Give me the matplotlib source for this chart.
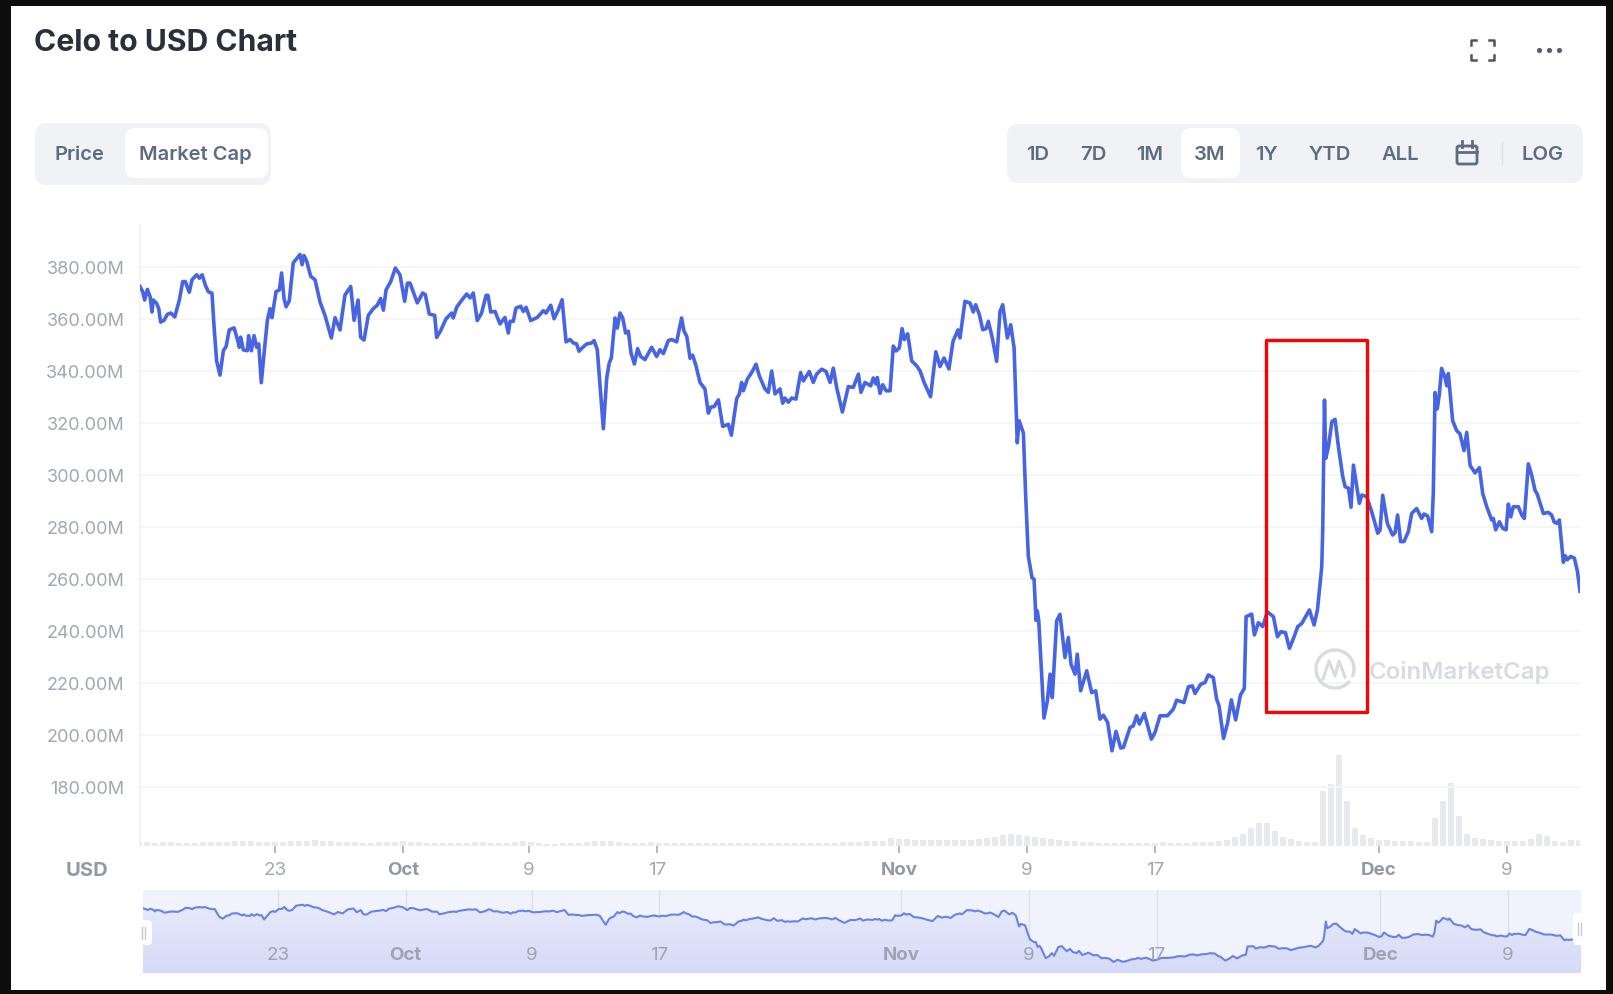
import matplotlib
matplotlib.use("Agg")
import matplotlib.pyplot as plt
import numpy as np
from matplotlib.patches import FancyBboxPatch, Rectangle, Arc

plt.rcParams['font.family'] = ['Inter', 'DejaVu Sans']

W, H = 1613, 994

# ---------- data ----------
# days since 1 September, market cap in USD millions
days_a = [13.56,13.73,13.85,14.02,14.19,14.31,14.39,14.60,14.73,14.85,15.06,15.27,15.48,15.73,16.02,16.23,16.39,16.64,16.81,17.10,17.27,17.44,17.64,17.83,18.06,18.19,18.35,18.56,18.77,18.94,19.14,19.44,19.64,19.77,19.85,20.02,20.27,20.35,20.52,20.69,20.85,20.98,21.14,21.31,21.52,21.69,21.81,22.06,22.27,22.41,22.56,22.69,22.89,23.14,23.39,23.56,23.69,23.81,23.98,24.23,24.50,24.81,25.12,25.52,25.75,26.06,26.37,26.73,26.94,27.19,27.35,27.56,27.83,28.14,28.39,28.60,28.77,28.94,29.23,29.52,29.81]
caps_a = [372.5,370.5,367.3,371.4,368.6,362.7,367.3,366.0,364.0,358.8,359.5,361.8,362.3,360.8,367.3,374.4,374.4,370.3,375.1,377.0,375.7,377.0,373.1,370.5,369.9,356.9,343.9,338.4,347.8,349.4,355.8,356.6,352.3,349.1,353.0,348.1,347.8,353.6,347.8,353.6,349.1,350.4,335.5,346.5,359.5,364.0,360.5,370.5,371.2,377.7,367.9,364.7,367.0,381.6,383.5,384.8,380.9,384.4,382.2,376.4,375.1,366.6,361.4,352.7,360.5,355.8,369.2,372.5,359.5,367.3,353.0,351.9,361.4,364.0,365.3,367.9,363.4,371.2,374.4,379.6,377.0]

days_b = [30.10,30.27,30.44,30.89,31.23,31.39,31.64,31.98,32.10,32.35,32.69,33.04,33.14,33.35,33.69,33.98,34.19,34.39,34.64,34.91,35.19,35.31,35.48,35.75,36.06,36.37,36.58,36.69,36.89,37.06,37.35,37.52,37.69,37.98,38.39,38.77,38.94,39.23,39.44,39.71,39.94,40.19,40.44,40.64,40.85,41.00,41.23,41.48,41.79,41.94,42.14,42.52,42.73,42.89,43.02,43.25,43.39,43.56,43.73,43.91,44.08,44.25,44.46,44.66,44.85,45.12,45.54,45.85,46.06]
caps_b = [366.8,373.8,373.8,366.2,370.0,369.4,361.9,361.4,352.9,355.5,360.1,362.3,360.4,364.5,367.4,369.6,368.1,370.0,359.4,362.3,369.1,369.1,362.7,362.9,358.1,360.6,354.6,359.1,359.1,364.2,364.9,362.9,364.5,359.4,360.6,363.2,362.3,365.3,360.1,363.6,367.4,351.2,352.1,350.8,350.4,347.6,349.1,350.4,350.8,351.7,348.2,317.8,337.3,343.1,345.0,360.4,356.5,362.3,360.4,354.6,355.3,346.9,342.7,348.6,345.6,344.4,349.1,345.6,348.2]

days_c = [46.27,46.58,46.79,47.10,47.41,47.56,47.73,47.94,48.10,48.31,48.56,48.87,49.08,49.23,49.44,49.71,49.98,50.33,50.52,50.85,51.02,51.16,51.27,51.52,51.79,52.06,52.27,52.62,52.83,53.04,53.25,53.56,53.73,53.87,54.08,54.29,54.56,54.85,55.02,55.39,55.64,55.85,56.17,56.44,56.69,56.89,57.10,57.46,57.83,58.14,58.46,58.62,58.87,59.23,59.39,59.56,59.64,59.81,59.98,60.19,60.44,60.64,60.81,61.02,61.19,61.33,61.54,61.79,62.10,62.31]
caps_c = [346.7,351.7,352.1,351.2,360.4,355.3,353.4,344.9,346.1,342.0,335.6,333.1,323.8,326.1,326.3,328.9,318.7,319.5,315.3,329.3,331.2,335.6,332.4,336.9,339.4,342.6,338.1,333.1,331.8,340.0,331.2,333.1,327.6,329.6,328.0,329.6,329.2,339.4,336.2,339.8,335.6,338.8,340.7,339.8,335.6,341.1,333.7,324.2,334.0,333.7,338.8,331.8,335.6,334.3,337.3,335.0,337.5,331.4,334.7,332.4,332.4,349.6,347.7,348.9,356.3,352.1,354.3,343.9,342.0,340.1]

days_d = [62.58,62.97,63.30,63.56,63.81,64.12,64.37,64.68,64.81,65.12,65.44,65.64,65.79,66.02,66.23,66.44,66.58,66.83,67.10,67.31,67.48,67.77,67.98,68.19,68.39,68.50,68.77,68.92,69.08,69.31,69.44,69.56,69.64,69.73,70.06,70.27,70.44,70.58,70.85,71.06,71.37,71.58,71.75,72.00,72.14,72.35,72.73,73.04,73.29,73.56,73.77,74.04,74.31,74.56,74.85,75.02,75.44,75.64,75.85,76.02,76.33,76.77,77.00,77.31,77.77,78.14,78.35,78.81,79.08,79.33,79.50,79.85,80.12,80.33,80.64,80.85]
caps_d = [335.4,330.1,347.4,341.7,345.0,340.8,351.3,355.8,352.7,366.8,366.1,362.7,365.5,361.7,355.9,356.3,359.1,352.7,343.7,362.9,365.5,352.7,357.8,348.9,312.4,320.9,316.2,291.2,268.8,260.5,259.9,244.1,247.7,244.1,206.5,213.1,223.4,214.4,243.9,246.4,229.8,237.5,227.2,223.4,231.1,217.0,224.7,216.3,217.0,206.1,207.6,204.8,193.9,201.4,195.0,195.2,202.9,203.5,207.4,204.2,208.3,198.4,201.0,207.4,207.4,209.9,213.4,212.5,218.5,218.9,216.0,219.5,220.2,223.1,222.1,213.8]

days_e = [81.00,81.28,81.53,81.77,82.04,82.34,82.58,82.69,83.04,83.21,83.46,83.73,84.02,84.40,84.65,84.86,85.15,85.40,85.69,85.92,86.17,86.65,86.94,87.15,87.42,87.48,87.59,87.67,87.84,88.05,88.25,88.46,88.73,88.88,89.09,89.25,89.40,89.77,89.92,90.23,90.54,90.92,91.06,91.23,91.52,91.85,92.00,92.16,92.35,92.56,92.83,93.04,93.35,93.66,93.81,94.04,94.29,94.39,94.50,94.64,94.77,94.91,95.12,95.23,95.33,95.60,95.85,96.06,96.31,96.48,96.69,97.00,97.27,97.48,97.73,98.04,98.14,98.29,98.52,98.73,98.94,99.08,99.23,99.39,99.71,99.92,100.08,100.33,100.54,100.75,100.89,101.27,101.58,101.79,101.94,102.10,102.27,102.52,102.64,102.77,102.98,103.21,103.40,103.56]
caps_e = [211.2,198.7,204.5,213.5,205.8,215.4,217.9,245.5,246.5,238.5,243.2,241.7,247.4,245.5,237.8,239.7,239.4,233.3,237.8,241.7,242.9,248.1,242.3,248.1,264.7,278.8,328.8,306.4,310.9,320.5,321.4,310.9,299.4,295.5,294.9,287.6,303.8,289.1,292.3,291.7,285.9,277.6,278.8,292.2,281.4,276.9,277.8,284.6,274.4,274.4,278.2,285.2,287.1,283.3,285.0,284.2,278.2,292.9,331.7,325.4,331.1,341.0,337.5,334.3,339.0,320.9,317.1,315.8,309.4,316.4,303.7,300.8,302.8,292.9,287.8,282.7,283.3,278.9,282.0,279.5,278.9,288.8,283.9,287.8,287.8,284.6,283.3,304.3,299.9,294.1,292.6,285.2,285.6,284.6,282.0,281.4,282.7,266.4,268.9,267.4,268.7,268.0,262.9,255.3]

days = days_a + days_b + days_c + days_d + days_e
market_cap = caps_a + caps_b + caps_c + caps_d + caps_e

# volume, one bar each half day from day 13.5 (relative units)
volume = [4,4,3,4,4,3,3,3,4,4,4,4,5,5,5,4,4,4,
          4,5,5,5,6,5,5,4,4,4,3,3,4,4,4,5,
          4,4,3,3,3,3,3,3,4,4,3,3,3,4,5,4,3,2,2,3,3,3,4,5,5,5,4,3,3,3,4,3,
          3,3,3,3,3,3,3,3,3,3,3,3,3,3,3,3,3,3,3,3,3,3,4,4,4,5,5,5,8,
          7,7,6,6,6,6,6,6,6,6,7,8,9,11,12,11,10,9,8,
          7,6,5,5,4,4,3,3,3,3,3,3,3,3,4,3,3,3,4,4,
          4,5,6,9,12,18,23,23,15,9,7,5,4,4,
          55,62,91,45,18,11,8,6,6,5,5,5,4,4,
          28,45,63,30,12,8,7,6,5,5,5,5,7,12,10,5,4,6,6]
volume_days = [13.5 + 0.5 * i for i in range(len(volume))]

y_ticks = [180, 200, 220, 240, 260, 280, 300, 320, 340, 360, 380]
y_labels = ['180.00M', '200.00M', '220.00M', '240.00M', '260.00M', '280.00M',
            '300.00M', '320.00M', '340.00M', '360.00M', '380.00M']
x_tick_days = [22, 30, 37.88, 45.88, 61, 69, 77, 91, 99]
x_tick_labels = ['23', 'Oct', '9', '17', 'Nov', '9', '17', 'Dec', '9']
month_labels = ['Oct', 'Nov', 'Dec']
range_buttons = ['1D', '7D', '1M', '3M', '1Y', 'YTD', 'ALL']
type_buttons = ['Price', 'Market Cap']

# ---------- colours ----------
LINE = '#4764e2'
GRID = '#f5f6f8'
TXT = '#a2a7b4'
BTN = '#5f6b80'
PANEL = '#f0f2f6'

fig = plt.figure(figsize=(W / 100, H / 100), dpi=100, facecolor='#0d0d0d')


def axes_px(x0, y0, x1, y1, **kw):
    return fig.add_axes([x0 / W, 1 - y1 / H, (x1 - x0) / W, (y1 - y0) / H], **kw)


# page layer in pixel coordinates (chrome only)
page = axes_px(0, 0, W, H, zorder=0)
page.set_xlim(0, W)
page.set_ylim(H, 0)
page.axis('off')
page.add_patch(Rectangle((11, 6), 1595, 984, fc='white', ec='none'))


def pill(x0, y0, x1, y1, r, color):
    page.add_patch(FancyBboxPatch((x0 + r, y0 + r), x1 - x0 - 2 * r, y1 - y0 - 2 * r,
                                  boxstyle=f'round,pad={r},rounding_size={r}',
                                  fc=color, ec='none'))


page.text(34, 43, 'Celo to USD Chart', fontsize=21.7, fontweight='bold', color='#2b2f3a',
          va='center', ha='left')

pill(35, 123, 271, 185, 12, PANEL)
pill(125, 128, 268, 178, 10, 'white')
page.text(79, 155, type_buttons[0], fontsize=14.5, fontweight='semibold', color=BTN, ha='center', va='center')
page.text(195, 155, type_buttons[1], fontsize=14.5, fontweight='semibold', color=BTN, ha='center', va='center')

pill(1007, 124, 1583, 183, 12, PANEL)
pill(1181, 128, 1240, 178, 10, 'white')
for name, cx in zip(range_buttons, [1038, 1093, 1150, 1210, 1267, 1330, 1400]):
    page.text(cx, 155, name, fontsize=14.5, fontweight='semibold', color=BTN, ha='center', va='center')
page.text(1543, 155, 'LOG', fontsize=14.5, fontweight='semibold', color=BTN, ha='center', va='center')
page.plot([1502, 1502], [142, 164], color='#dfe2e8', lw=1)

# calendar icon
page.add_patch(FancyBboxPatch((1457, 146), 20, 18, boxstyle='round,pad=0,rounding_size=2',
                              fc='none', ec=BTN, lw=2))
page.plot([1457, 1477], [152, 152], color=BTN, lw=2)
page.plot([1462, 1462], [141, 147], color=BTN, lw=2)
page.plot([1472, 1472], [141, 147], color=BTN, lw=2)

# full-screen corners and menu dots
for sx, sy in [(1471, 40), (1494, 40), (1471, 60), (1494, 60)]:
    dx = 5 if sx < 1480 else -5
    dy = 5 if sy < 50 else -5
    page.plot([sx + dx, sx, sx], [sy, sy, sy + dy], color='#50545f', lw=1.8)
page.scatter([1539, 1549, 1559], [50, 50, 50], s=14, color='#5a5f6b', lw=0)

# main chart
ax = axes_px(140, 224, 1580, 846, zorder=2)
ax.patch.set_alpha(0)
val = lambda px: 380 - (px - 267) / 2.6
ax.set_ylim(val(846), val(224))
ax.set_xlim(13.56, 103.56)
ax.set_yticks(y_ticks)
ax.set_yticklabels(y_labels)
ax.set_xticks(x_tick_days)
ax.set_xticklabels(x_tick_labels)
ax.grid(axis='y', color=GRID, lw=1.6, zorder=0)
ax.set_axisbelow(True)
for s in ['top', 'right', 'bottom']:
    ax.spines[s].set_visible(False)
ax.spines['left'].set_color('#f1f2f6')
ax.spines['left'].set_linewidth(1.2)
ax.tick_params(axis='y', length=0, pad=11, labelsize=13, labelcolor=TXT)
ax.tick_params(axis='x', length=5, width=1.2, color='#a7abb6', pad=6.5, labelsize=13.5, labelcolor=TXT)
for lab in ax.get_xticklabels():
    if lab.get_text() in month_labels:
        lab.set_fontweight('bold')
        lab.set_color('#9298a6')
ax.plot(days, market_cap, color=LINE, lw=2.6, solid_joinstyle='round', zorder=3)

# volume bars share the main chart's baseline
vol = ax.twinx()
vol.patch.set_alpha(0)
vol.set_ylim(0, 622)
vol.axis('off')
vol.bar(volume_days, volume, width=0.4, color='#e9eaed', zorder=1)
ax.set_zorder(3)
vol.set_zorder(2)

# navigator
nav = axes_px(143, 890, 1581, 973, zorder=2)
nav.set_facecolor('#f0f2fc')
nav.set_yticks([])
nav.set_xticks(x_tick_days)
nav.set_xticklabels([])
nav.tick_params(axis='x', length=0)
nav.grid(axis='x', color='#dcdff0', lw=1)
nav.set_axisbelow(True)
for s in nav.spines.values():
    s.set_visible(False)
area = nav.fill_between(days, market_cap, 157, color='none', lw=0)
shade = nav.imshow(np.linspace(0, 1, 64)[:, None], extent=(13.56, 103.56, 157, 400), aspect='auto',
                   origin='lower', cmap=matplotlib.colors.LinearSegmentedColormap.from_list(
                       'nav', ['#d5daf7', '#e8ebfb']), zorder=1)
shade.set_clip_path(area.get_paths()[0], transform=nav.transData)
nav.set_xlim(13.56, 103.56)
nav.set_ylim(157, 434)
nav.plot(days, market_cap, color='#6a82e4', lw=1.5, zorder=2)
for d, name in zip(x_tick_days, x_tick_labels):
    nav.text(d, 0.215, name, transform=nav.get_xaxis_transform(), ha='center', va='center',
             fontsize=13.5, color='#9da2b4', fontweight='bold' if name in month_labels else 'normal', zorder=3)

# overlay in pixel coordinates: annotation, watermark, handles
top = axes_px(0, 0, W, H, zorder=5)
top.set_xlim(0, W)
top.set_ylim(H, 0)
top.axis('off')
top.patch.set_alpha(0)
top.add_patch(Rectangle((1266, 340), 101, 372, fc='none', ec='#ff0000', lw=2.4, joinstyle='round'))
top.text(87, 871, 'USD', fontsize=14.5, fontweight='bold', color='#9298a6', ha='center', va='center')

WM = '#d9dbe1'
top.add_patch(Arc((1335, 669), 38, 38, theta1=40, theta2=385, ec=WM, lw=2.4))
top.plot([1323, 1329, 1335, 1339, 1345], [679, 661, 676, 661, 677], color=WM, lw=2.2)
top.text(1369, 672, 'CoinMarketCap', fontsize=17.3, fontweight='semibold', color=WM, ha='left', va='center', zorder=1)

for x0, x1, y0, y1 in [(135, 152, 920, 945), (1573, 1585, 913, 945)]:
    top.add_patch(FancyBboxPatch((x0 + 4, y0 + 4), x1 - x0 - 8, y1 - y0 - 8,
                                 boxstyle='round,pad=4,rounding_size=4', fc='white', ec='none'))
    cx = (x0 + x1) / 2
    top.plot([cx - 1.5, cx - 1.5], [(y0 + y1) / 2 - 6, (y0 + y1) / 2 + 6], color='#c6c9d2', lw=1)
    top.plot([cx + 1.5, cx + 1.5], [(y0 + y1) / 2 - 6, (y0 + y1) / 2 + 6], color='#c6c9d2', lw=1)

fig.savefig('out.png', dpi=100, facecolor=fig.get_facecolor())
